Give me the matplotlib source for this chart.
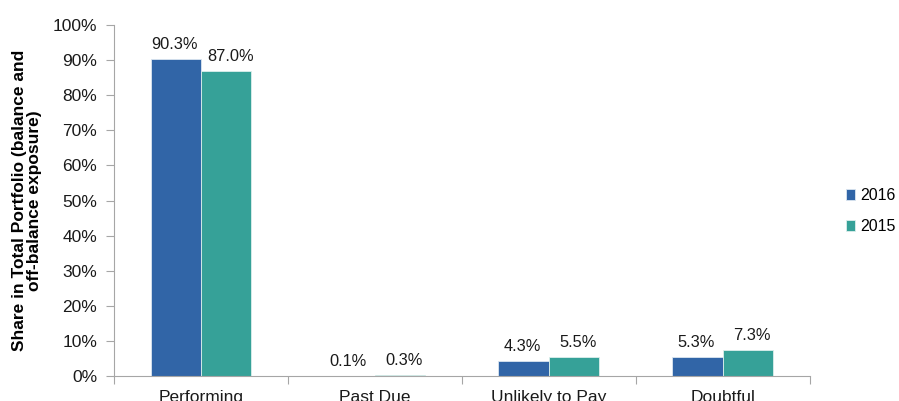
import matplotlib

matplotlib.use("Agg")

import matplotlib.pyplot as plt
import numpy as np
from matplotlib.ticker import FixedLocator, PercentFormatter

categories = ["Performing", "Past Due", "Unlikely to Pay", "Doubtful"]
share_2016 = [90.3, 0.1, 4.3, 5.3]
share_2015 = [87.0, 0.3, 5.5, 7.3]

BLUE = "#3165A7"
TEAL = "#36A198"
GREY = "#A6A6A6"

plt.rcParams["font.family"] = ["Liberation Sans", "DejaVu Sans"]

fig = plt.figure(figsize=(8.99, 4.01), dpi=100)
ax = fig.add_axes([0.1268, 0.0623, 0.774, 0.875])

x = np.arange(len(categories))
w = 0.29
b1 = ax.bar(x - w / 2, share_2016, w, color=BLUE, edgecolor="#DCE6F0", linewidth=0.6, label="2016")
b2 = ax.bar(x + w / 2, share_2015, w, color=TEAL, edgecolor="#DCEFEC", linewidth=0.6, label="2015")

# value labels; nudge the 2015 ones a little right so neighbours don't crowd
for bars, vals, dx in ((b1, share_2016, -1), (b2, share_2015, 3)):
    for rect, v in zip(bars, vals):
        ax.annotate(f"{v:.1f}%", (rect.get_x() + rect.get_width() / 2, v),
                    xytext=(dx, 5), textcoords="offset points",
                    ha="center", va="bottom", fontsize=11.8, color="#1a1a1a")

ax.set_xlim(-0.5, len(categories) - 0.5)
ax.set_ylim(0, 100)
ax.yaxis.set_major_locator(FixedLocator(np.arange(0, 101, 10)))
ax.yaxis.set_major_formatter(PercentFormatter(decimals=0))

ax.set_xticks(x)
ax.set_xticklabels(categories)
ax.xaxis.set_minor_locator(FixedLocator(np.arange(-0.5, len(categories), 1.0)))
ax.tick_params(axis="x", which="major", length=0, pad=10, labelsize=12.5, labelcolor="#1a1a1a")
ax.tick_params(axis="x", which="minor", length=6, color=GREY, width=0.8)
ax.tick_params(axis="y", length=6, color=GREY, width=0.8, pad=6, labelsize=12.5, labelcolor="#1a1a1a")

for side in ("top", "right"):
    ax.spines[side].set_visible(False)
for side in ("left", "bottom"):
    ax.spines[side].set_color(GREY)
    ax.spines[side].set_linewidth(0.8)

ax.set_ylabel("Share in Total Portfolio (balance and\noff-balance exposure)",
              fontsize=12.5, fontweight="bold", labelpad=8, linespacing=0.95)

ax.legend(loc="center left", bbox_to_anchor=(1.031, 0.47), frameon=False,
          fontsize=11.5, handlelength=0.6, handleheight=0.6, handletextpad=0.3,
          labelspacing=1.0)

fig.savefig("out.png", dpi=100)
